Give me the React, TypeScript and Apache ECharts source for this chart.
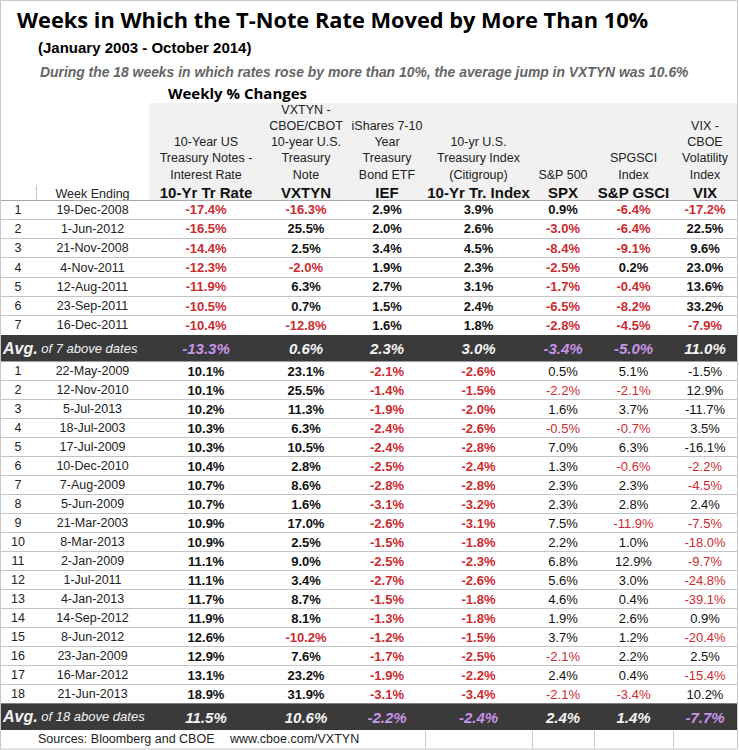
import React, { useEffect, useRef } from "react";
import * as echarts from "echarts";

// ---------- Data ----------
const columnCodes = ["", "Week Ending", "10-Yr Tr Rate", "VXTYN", "IEF", "10-Yr Tr. Index", "SPX", "S&P GSCI", "VIX"];
const columnDescriptions = [
  [],
  [],
  ["10-Year US", "Treasury Notes -", "Interest Rate"],
  ["VXTYN -", "CBOE/CBOT", "10-year U.S.", "Treasury", "Note"],
  ["iShares 7-10", "Year", "Treasury", "Bond ETF"],
  ["10-yr U.S.", "Treasury Index", "(Citigroup)"],
  ["S&P 500"],
  ["SPGSCI", "Index"],
  ["VIX -", "CBOE", "Volatility", "Index"],
];

// Weeks in which the rate fell by more than 10%
const fallWeeks = ["19-Dec-2008", "1-Jun-2012", "21-Nov-2008", "4-Nov-2011", "12-Aug-2011", "23-Sep-2011", "16-Dec-2011"];
const fallRate = [-17.4, -16.5, -14.4, -12.3, -11.9, -10.5, -10.4];
const fallVxtyn = [-16.3, 25.5, 2.5, -2.0, 6.3, 0.7, -12.8];
const fallIef = [2.9, 2.0, 3.4, 1.9, 2.7, 1.5, 1.6];
const fallTrIndex = [3.9, 2.6, 4.5, 2.3, 3.1, 2.4, 1.8];
const fallSpx = [0.9, -3.0, -8.4, -2.5, -1.7, -6.5, -2.8];
const fallGsci = [-6.4, -6.4, -9.1, 0.2, -0.4, -8.2, -4.5];
const fallVix = [-17.2, 22.5, 9.6, 23.0, 13.6, 33.2, -7.9];
const fallAvg = [-13.3, 0.6, 2.3, 3.0, -3.4, -5.0, 11.0];

// Weeks in which the rate rose by more than 10%
const riseWeeks = ["22-May-2009", "12-Nov-2010", "5-Jul-2013", "18-Jul-2003", "17-Jul-2009", "10-Dec-2010", "7-Aug-2009", "5-Jun-2009", "21-Mar-2003", "8-Mar-2013", "2-Jan-2009", "1-Jul-2011", "4-Jan-2013", "14-Sep-2012", "8-Jun-2012", "23-Jan-2009", "16-Mar-2012", "21-Jun-2013"];
const riseRate = [10.1, 10.1, 10.2, 10.3, 10.3, 10.4, 10.7, 10.7, 10.9, 10.9, 11.1, 11.1, 11.7, 11.9, 12.6, 12.9, 13.1, 18.9];
const riseVxtyn = [23.1, 25.5, 11.3, 6.3, 10.5, 2.8, 8.6, 1.6, 17.0, 2.5, 9.0, 3.4, 8.7, 8.1, -10.2, 7.6, 23.2, 31.9];
const riseIef = [-2.1, -1.4, -1.9, -2.4, -2.4, -2.5, -2.8, -3.1, -2.6, -1.5, -2.5, -2.7, -1.5, -1.3, -1.2, -1.7, -1.9, -3.1];
const riseTrIndex = [-2.6, -1.5, -2.0, -2.6, -2.8, -2.4, -2.8, -3.2, -3.1, -1.8, -2.3, -2.6, -1.8, -1.8, -1.5, -2.5, -2.2, -3.4];
const riseSpx = [0.5, -2.2, 1.6, -0.5, 7.0, 1.3, 2.3, 2.3, 7.5, 2.2, 6.8, 5.6, 4.6, 1.9, 3.7, -2.1, 2.4, -2.1];
const riseGsci = [5.1, -2.1, 3.7, -0.7, 6.3, -0.6, 2.3, 2.8, -11.9, 1.0, 12.9, 3.0, 0.4, 2.6, 1.2, 2.2, 0.4, -3.4];
const riseVix = [-1.5, 12.9, -11.7, 3.5, -16.1, -2.2, -4.5, 2.4, -7.5, -18.0, -9.7, -24.8, -39.1, 0.9, -20.4, 2.5, -15.4, 10.2];
const riseAvg = [11.5, 10.6, -2.2, -2.4, 2.4, 1.4, -7.7];

const titleText = "Weeks in Which the T-Note Rate Moved by More Than 10%";
const subtitle = "(January 2003 - October 2014)";
const noteText = "During the 18 weeks in which rates rose by more than 10%, the average jump in VXTYN was 10.6%";
const sectionText = "Weekly % Changes";
const sourceText = "Sources: Bloomberg and CBOE";
const urlText = "www.cboe.com/VXTYN";

// ---------- Layout / style ----------
const colWidths = [36, 113, 114, 86, 76, 107, 62, 79, 64];
const colEdges = colWidths.reduce((a, w) => { a.push(a[a.length - 1] + w); return a; }, [0] as number[]);
const TOTAL_W = colEdges[colEdges.length - 1];
const HEADER_H = 97;
const ROW_H_TOP = 19.3;
const ROW_H_BOT = 19.0;
const AVG_H = 26.4;
const FOOT_H = 19;
const GRID_TOP = 103;

const AR = '"Liberation Sans", Arial, sans-serif';
const TITLE_F = '"Open Sans", Lato, sans-serif';
const RED = "#cc2a2f";
const INK = "#111111";
const PURPLE = "#c893e8";
const WHITE = "#f4f4f4";
const DARK = "#3a3a3a";
const LINE = "#c4c4c4";
const HEAD_BG = "#f1f1f1";
// styling exceptions in the source sheet: these VIX negatives are shown in black (rise block)
const riseVixBlackRows = new Set([0, 2, 4]);

type Block = { weeks: string[]; cols: number[][]; avg: number[]; avgLabel: string; rowH: number; light: boolean };
const blocks: Block[] = [
  { weeks: fallWeeks, cols: [fallRate, fallVxtyn, fallIef, fallTrIndex, fallSpx, fallGsci, fallVix], avg: fallAvg, avgLabel: "of 7 above dates", rowH: ROW_H_TOP, light: false },
  { weeks: riseWeeks, cols: [riseRate, riseVxtyn, riseIef, riseTrIndex, riseSpx, riseGsci, riseVix], avg: riseAvg, avgLabel: "of 18 above dates", rowH: ROW_H_BOT, light: true },
];

type Row = { kind: "header" | "data" | "avg" | "footer"; top: number; h: number; block?: number; index?: number };
const rows: Row[] = [];
let cursor = 0;
rows.push({ kind: "header", top: cursor, h: HEADER_H });
cursor += HEADER_H;
blocks.forEach((b, bi) => {
  b.weeks.forEach((_, i) => {
    rows.push({ kind: "data", top: cursor, h: b.rowH, block: bi, index: i });
    cursor += b.rowH;
  });
  rows.push({ kind: "avg", top: cursor, h: AVG_H, block: bi });
  cursor += AVG_H;
});
rows.push({ kind: "footer", top: cursor, h: FOOT_H });
cursor += FOOT_H;
const TOTAL_H = cursor;

const fmt = (v: number) => v.toFixed(1) + "%";

function t(x: number, y: number, text: string, font: string, fill: string, align = "center", rich?: any) {
  const style: any = { text, font, fill, align, verticalAlign: "middle", textAlign: align, textVerticalAlign: "middle" };
  if (rich) style.rich = rich;
  return { type: "text", x, y, style, silent: true };
}
function hline(x1: number, x2: number, y: number, stroke: string) {
  const yy = Math.round(y) + 0.5;
  return { type: "line", shape: { x1, y1: yy, x2, y2: yy }, style: { stroke, lineWidth: 1 }, silent: true };
}
function vline(x: number, y1: number, y2: number, stroke: string) {
  const xx = Math.round(x) + 0.5;
  return { type: "line", shape: { x1: xx, y1, x2: xx, y2 }, style: { stroke, lineWidth: 1 }, silent: true };
}

function renderItem(params: any, api: any) {
  const r = rows[api.value(2)];
  const yTop = api.coord([0, r.top])[1];
  const yBot = api.coord([0, r.top + r.h])[1];
  const yMid = (yTop + yBot) / 2;
  const xAt = (u: number) => api.coord([u, 0])[0];
  const cx = (c: number) => (xAt(colEdges[c]) + xAt(colEdges[c + 1])) / 2;
  const left = xAt(0);
  const right = xAt(TOTAL_W);
  const children: any[] = [];

  if (r.kind === "header") {
    children.push({ type: "rect", shape: { x: xAt(colEdges[2]), y: yTop, width: right - xAt(colEdges[2]), height: yBot - yTop }, style: { fill: HEAD_BG }, silent: true });
    const codeY = yBot - 8;
    const lastDescY = yBot - 25.5;
    columnCodes.forEach((code, c) => {
      if (c === 1) {
        children.push(t(cx(c), yBot - 6.5, code, `12.5px ${AR}`, "#222"));
      } else if (code) {
        children.push(t(cx(c), codeY, code, `bold 15px ${AR}`, INK));
      }
      const desc = columnDescriptions[c];
      desc.forEach((line, k) => {
        children.push(t(cx(c), lastDescY - (desc.length - 1 - k) * 16.2, line, `12.5px ${AR}`, "#222"));
      });
    });
    children.push(hline(left, right, yBot - 0.5, "#a8a8a8"));
    children.push(vline(xAt(colEdges[1]), yBot - 15, yBot, "#c8c8c8"));
  } else if (r.kind === "data") {
    const b = blocks[r.block!];
    const i = r.index!;
    children.push(t(cx(0), yMid, String(i + 1), `12.5px ${AR}`, "#222"));
    children.push(t(cx(1), yMid, b.weeks[i], `12.5px ${AR}`, "#222"));
    b.cols.forEach((vals, k) => {
      const c = k + 2;
      const v = vals[i];
      let neg = v < 0;
      if (r.block === 1 && c === 8 && riseVixBlackRows.has(i)) neg = false;
      const weight = b.light && c >= 6 ? "normal" : "bold";
      children.push(t(cx(c), yMid, fmt(v), `${weight} 13px ${AR}`, neg ? RED : INK));
    });
    children.push(hline(left, right, yBot - 0.5, LINE));
  } else if (r.kind === "avg") {
    const b = blocks[r.block!];
    children.push({ type: "rect", shape: { x: left, y: yTop, width: right - left, height: yBot - yTop }, style: { fill: DARK }, silent: true });
    children.push(t(left + 3, yMid, `{a|Avg.} {b|${b.avgLabel}}`, `italic 13px ${AR}`, WHITE, "left", {
      a: { font: `italic bold 16px ${AR}`, fill: WHITE },
      b: { font: `italic 13px ${AR}`, fill: WHITE },
    }));
    b.avg.forEach((v, k) => {
      const c = k + 2;
      children.push(t(cx(c), yMid + 0.5, fmt(v), `italic bold 15px ${AR}`, v < 0 ? PURPLE : WHITE));
    });
  } else {
    children.push(t(xAt(colEdges[0]) + 38, yMid, sourceText, `12.5px ${AR}`, "#222", "left"));
    children.push(t(xAt(colEdges[0]) + 230, yMid, urlText, `12.5px ${AR}`, "#222", "left"));
    [5, 6, 7, 8].forEach((c) => children.push(vline(xAt(colEdges[c]), yTop, yBot, "#cfcfcf")));
  }
  return { type: "group", children };
}

const textStyle = (text: string, font: string, fill: string) => ({
  text, font, fill, align: "left", verticalAlign: "middle", textAlign: "left", textVerticalAlign: "middle",
});

export default function App() {
  const ref = useRef<HTMLDivElement>(null);
  useEffect(() => {
    if (!ref.current) return;
    const chart = echarts.init(ref.current, null, { renderer: "svg" });
    chart.setOption({
      animation: false,
      backgroundColor: "#ffffff",
      grid: { left: 0, top: GRID_TOP, width: TOTAL_W, height: TOTAL_H, containLabel: false },
      xAxis: { type: "value", min: 0, max: TOTAL_W, show: false },
      yAxis: { type: "value", min: 0, max: TOTAL_H, inverse: true, show: false },
      graphic: [
        { type: "rect", shape: { x: 0.5, y: 0.5, width: 737, height: 748.5 }, style: { fill: "none", stroke: "#c8c8c8", lineWidth: 1 }, z: 100, silent: true },
        { type: "text", x: 17, y: 19, style: textStyle(titleText, `bold 21.8px ${TITLE_F}`, "#000") },
        { type: "text", x: 38, y: 47, style: textStyle(subtitle, `bold 15px ${AR}`, "#000") },
        { type: "text", x: 40, y: 72, style: textStyle(noteText, `italic bold 13.9px ${AR}`, "#666") },
        { type: "text", x: 168, y: 93, style: textStyle(sectionText, `bold 15px ${TITLE_F}`, "#000") },
      ],
      series: [
        {
          type: "custom",
          coordinateSystem: "cartesian2d",
          renderItem,
          encode: { x: 0, y: 1 },
          data: rows.map((r, i) => [0, r.top, i]),
          clip: false,
          silent: true,
        },
      ],
    });
    return () => chart.dispose();
  }, []);
  return <div ref={ref} style={{ position: "absolute", left: 0, top: 0, width: 739, height: 750 }} />;
}
